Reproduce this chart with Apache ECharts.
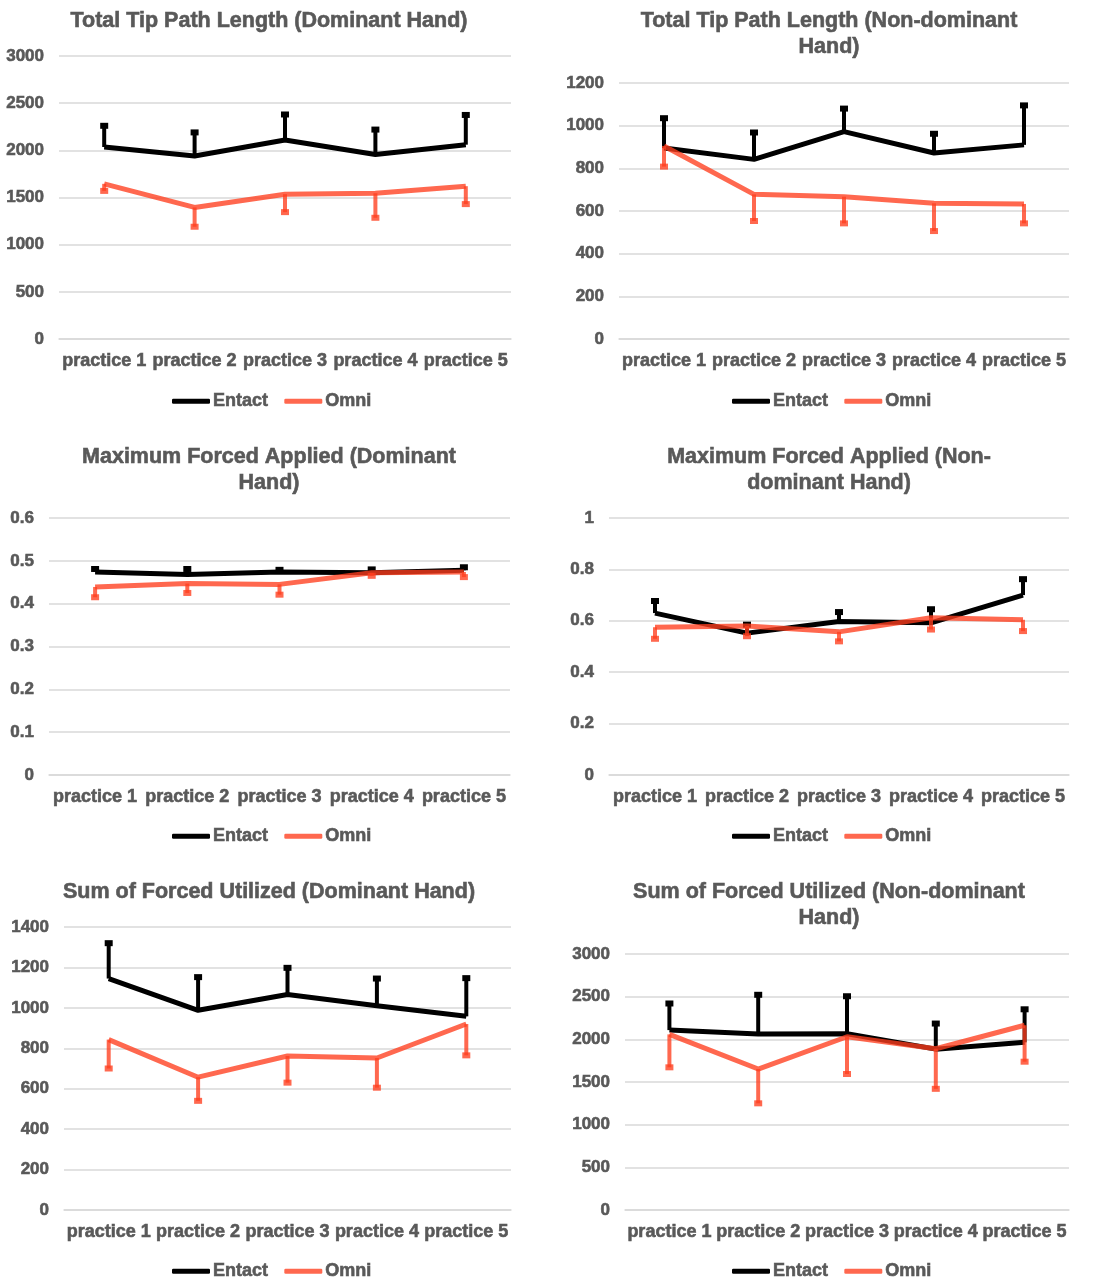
<!DOCTYPE html>
<html>
<head>
<meta charset="utf-8">
<script src="https://cdn.jsdelivr.net/npm/echarts@6/dist/echarts.min.js"></script>
<style>
html,body{margin:0;padding:0;background:#fff;}
#c{width:1101px;height:1280px;}
</style>
</head>
<body>
<div id="c"></div>
<script>
// ---- Data ----
const categories = ['practice 1', 'practice 2', 'practice 3', 'practice 4', 'practice 5'];
const seriesNames = ['Entact', 'Omni'];

const titles = [
  'Total Tip Path Length (Dominant Hand)',
  'Total Tip Path Length (Non-dominant\nHand)',
  'Maximum Forced Applied (Dominant\nHand)',
  'Maximum Forced Applied (Non-\ndominant Hand)',
  'Sum of Forced Utilized (Dominant Hand)',
  'Sum of Forced Utilized (Non-dominant\nHand)'
];

// Total Tip Path Length (Dominant Hand)
const tipDomEntact = [2035, 1940, 2110, 1955, 2060];
const tipDomEntactTop = [2260, 2190, 2380, 2220, 2375];
const tipDomOmni = [1645, 1395, 1535, 1545, 1620];
const tipDomOmniBottom = [1570, 1190, 1345, 1285, 1430];

// Total Tip Path Length (Non-dominant Hand)
const tipNonEntact = [895, 842, 972, 872, 910];
const tipNonEntactTop = [1035, 968, 1080, 962, 1095];
const tipNonOmni = [905, 678, 667, 636, 633];
const tipNonOmniBottom = [808, 553, 542, 506, 542];

// Maximum Forced Applied (Dominant Hand)
const maxDomEntact = [0.474, 0.468, 0.474, 0.472, 0.478];
const maxDomEntactTop = [0.481, 0.481, 0.479, 0.480, 0.485];
const maxDomOmni = [0.439, 0.447, 0.445, 0.472, 0.474];
const maxDomOmniBottom = [0.415, 0.425, 0.421, 0.465, 0.462];

// Maximum Forced Applied (Non-dominant Hand)
const maxNonEntact = [0.630, 0.552, 0.597, 0.592, 0.700];
const maxNonEntactTop = [0.677, 0.585, 0.634, 0.645, 0.762];
const maxNonOmni = [0.575, 0.580, 0.557, 0.612, 0.604];
const maxNonOmniBottom = [0.530, 0.540, 0.520, 0.566, 0.560];

// Sum of Forced Utilized (Dominant Hand)
const sumDomEntact = [1145, 988, 1066, 1010, 958];
const sumDomEntactTop = [1320, 1152, 1198, 1145, 1147];
const sumDomOmni = [843, 657, 762, 752, 920];
const sumDomOmniBottom = [700, 540, 630, 605, 765];

// Sum of Forced Utilized (Non-dominant Hand)
const sumNonEntact = [2108, 2062, 2065, 1885, 1965];
const sumNonEntactTop = [2420, 2522, 2505, 2185, 2352];
const sumNonOmni = [2058, 1652, 2030, 1890, 2165];
const sumNonOmniBottom = [1672, 1250, 1594, 1420, 1738];

const yMax = [3000, 1200, 0.6, 1, 1400, 3000];
const yInterval = [500, 200, 0.1, 0.2, 200, 500];

const panels = [
  [tipDomEntact, tipDomEntactTop, tipDomOmni, tipDomOmniBottom],
  [tipNonEntact, tipNonEntactTop, tipNonOmni, tipNonOmniBottom],
  [maxDomEntact, maxDomEntactTop, maxDomOmni, maxDomOmniBottom],
  [maxNonEntact, maxNonEntactTop, maxNonOmni, maxNonOmniBottom],
  [sumDomEntact, sumDomEntactTop, sumDomOmni, sumDomOmniBottom],
  [sumNonEntact, sumNonEntactTop, sumNonOmni, sumNonOmniBottom]
];

// ---- Layout ----
const W = 1101, H = 1280;
const gridBoxes = [
  {left: 59, right: W - 511, top: 56, bottom: H - 339},
  {left: 619, right: W - 1069, top: 83, bottom: H - 339},
  {left: 49, right: W - 510, top: 518, bottom: H - 775},
  {left: 609, right: W - 1069, top: 518, bottom: H - 775},
  {left: 64, right: W - 511, top: 927, bottom: H - 1210},
  {left: 625, right: W - 1069, top: 954, bottom: H - 1210}
];
const titleCenters = [[264, 3], [824, 3], [264, 439], [824, 439], [264, 874], [824, 874]];
const legendPos = [[167, 387], [727, 387], [167, 822], [727, 822], [167, 1257], [727, 1257]];

const TXT = '#595959';
const BLACK = '#000000';
const RED = 'rgba(255,62,30,0.78)';
const FONT = 'Liberation Sans, Arial, sans-serif';
const thick = {textBorderColor: TXT, textBorderWidth: 0.6};

function errRender(params, api) {
  const x = api.value(0), v = api.value(1), e = api.value(2);
  const p0 = api.coord([x, v]);
  const p1 = api.coord([x, e]);
  const color = api.visual('color');
  return {
    type: 'group',
    children: [
      {type: 'line', shape: {x1: p0[0], y1: p0[1], x2: p1[0], y2: p1[1]}, style: {stroke: color, lineWidth: 4}},
      {type: 'rect', shape: {x: p1[0] - 4, y: p1[1] - 3, width: 8, height: 6}, style: {fill: color}}
    ]
  };
}

const option = {
  backgroundColor: '#ffffff',
  animation: false,
  title: [], legend: [], grid: [], xAxis: [], yAxis: [], series: []
};

for (let i = 0; i < 6; i++) {
  const [ent, entTop, omn, omnBot] = panels[i];
  option.title.push({
    text: titles[i],
    left: titleCenters[i][0], top: titleCenters[i][1],
    textAlign: 'center',
    textStyle: Object.assign({fontFamily: FONT, fontSize: 21.5, fontWeight: 'bold', color: TXT, lineHeight: 26}, thick)
  });
  option.legend.push({
    data: seriesNames,
    left: legendPos[i][0], top: legendPos[i][1],
    icon: 'roundRect', itemWidth: 38, itemHeight: 5, itemGap: 16,
    textStyle: Object.assign({fontFamily: FONT, fontSize: 18, fontWeight: 'bold', color: TXT, padding: [0, 0, 0, -2]}, thick),
    selectedMode: false
  });
  option.grid.push(Object.assign({containLabel: false}, gridBoxes[i]));
  option.xAxis.push({
    type: 'category', gridIndex: i, data: categories,
    axisLine: {show: true, lineStyle: {color: '#D9D9D9', width: 1.5}},
    axisTick: {show: false},
    axisLabel: Object.assign({interval: 0, margin: 13, fontFamily: FONT, fontSize: 18, fontWeight: 'bold', color: TXT}, thick)
  });
  option.yAxis.push({
    type: 'value', gridIndex: i, min: 0, max: yMax[i], interval: yInterval[i],
    axisLine: {show: false}, axisTick: {show: false},
    splitLine: {lineStyle: {color: '#D9D9D9', width: 1.5}},
    axisLabel: Object.assign({margin: 15, fontFamily: FONT, fontSize: 17, fontWeight: 'bold', color: TXT,
      formatter: v => String(Math.round(v * 1000) / 1000)}, thick)
  });
  option.series.push({
    name: 'Entact', type: 'custom', xAxisIndex: i, yAxisIndex: i,
    renderItem: errRender, itemStyle: {color: BLACK},
    encode: {x: 0, y: [1, 2]},
    data: ent.map((v, k) => [k, v, entTop[k]]), z: 2
  });
  option.series.push({
    name: 'Entact', type: 'line', xAxisIndex: i, yAxisIndex: i,
    data: ent, symbol: 'none', itemStyle: {color: BLACK},
    lineStyle: {color: BLACK, width: 5}, z: 3
  });
  option.series.push({
    name: 'Omni', type: 'custom', xAxisIndex: i, yAxisIndex: i,
    renderItem: errRender, itemStyle: {color: RED},
    encode: {x: 0, y: [1, 2]},
    data: omn.map((v, k) => [k, v, omnBot[k]]), z: 4
  });
  option.series.push({
    name: 'Omni', type: 'line', xAxisIndex: i, yAxisIndex: i,
    data: omn, symbol: 'none', itemStyle: {color: RED},
    lineStyle: {color: RED, width: 5}, z: 5
  });
}

const chart = echarts.init(document.getElementById('c'), null, {renderer: 'canvas'});
chart.setOption(option);
</script>
</body>
</html>
